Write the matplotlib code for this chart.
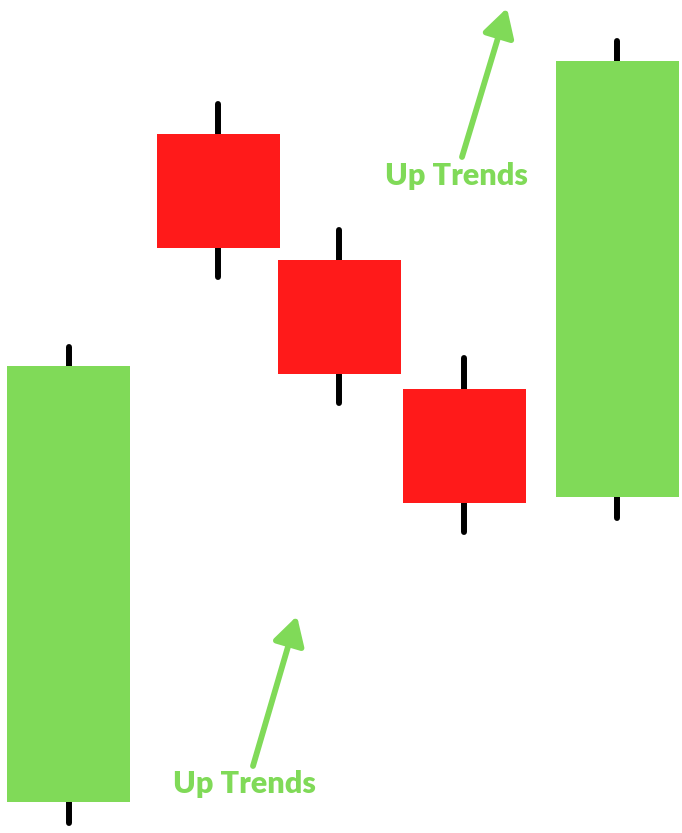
import matplotlib.pyplot as plt

# candle data (price units, bottom of chart = 0)
x_pos = [68.5, 218, 339, 464, 617]
opens = [3.1, 69.9, 57.3, 44.4, 33.6]
closes = [46.7, 58.5, 45.9, 33.0, 77.2]
highs = [48.6, 72.9, 60.3, 47.5, 79.2]
lows = [1.0, 55.6, 43.0, 30.1, 31.5]

labels = ["Up Trends", "Up Trends"]
label_pos = [(456, 64.8), (244.5, 4.0)]
arrow_tails = [(462, 67.6), (253, 6.7)]
arrow_tips = [(507, 82.5), (297, 21.7)]

green = '#80da58'
red = '#ff1a1a'
body_w = 123

fig = plt.figure(figsize=(6.82, 8.33), dpi=100)
ax = fig.add_axes([0, 0, 1, 1])
ax.set_xlim(0, 682)
ax.set_ylim(0, 83.3)
ax.axis('off')

for x, o, c, h, l in zip(x_pos, opens, closes, highs, lows):
    col = green if c >= o else red
    ax.plot([x, x], [l, h], color='black', lw=4.3, solid_capstyle='round', zorder=1)
    ax.bar(x, abs(c - o), bottom=min(o, c), width=body_w, color=col, zorder=2)

for txt, (tx, ty) in zip(labels, label_pos):
    ax.text(tx, ty, txt, color=green, fontsize=22, fontfamily='Lato',
            fontweight='heavy', ha='center', va='baseline')

for tail, tip in zip(arrow_tails, arrow_tips):
    ax.annotate('', xy=tip, xytext=tail,
                arrowprops=dict(arrowstyle='-|>,head_length=0.85,head_width=0.48',
                                mutation_scale=20, color=green, lw=4.2,
                                capstyle='round', joinstyle='round',
                                shrinkA=0, shrinkB=0))

fig.savefig('out.png', dpi=100)
